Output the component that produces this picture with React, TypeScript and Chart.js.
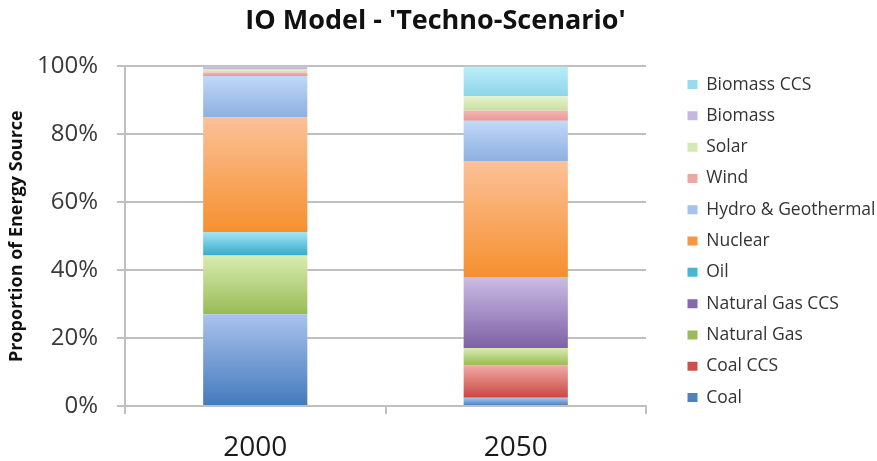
import { useEffect, useRef } from 'react';
import { Chart, registerables } from 'chart.js';

Chart.register(...registerables);

// Scenario years on the x axis
const years = ['2000', '2050'];

// Share of each energy source (%), one value per year
const coal = [27, 2.4];
const coalCcs = [0, 9.6];
const naturalGas = [17.3, 5.1];
const naturalGasCcs = [0, 20.9];
const oil = [6.9, 0];
const nuclear = [33.8, 34];
const hydroGeothermal = [12.2, 12];
const wind = [1, 3];
const solar = [0.9, 4.2];
const biomass = [0.9, 0];
const biomassCcs = [0, 8.8];

const yTicks = [0, 20, 40, 60, 80, 100];

type Series = {
  label: string;
  values: number[];
  light: string;
  dark: string;
  swatch: string;
};

// Stacking order, bottom to top
const series: Series[] = [
  { label: 'Coal', values: coal, light: '#a9c3ec', dark: '#4479bd', swatch: '#4f81bd' },
  { label: 'Coal CCS', values: coalCcs, light: '#f1aaa8', dark: '#c9473f', swatch: '#cf504b' },
  { label: 'Natural Gas', values: naturalGas, light: '#d9ecb0', dark: '#98bb55', swatch: '#9bbb59' },
  { label: 'Natural Gas CCS', values: naturalGasCcs, light: '#cbbde4', dark: '#7d61a5', swatch: '#8468ad' },
  { label: 'Oil', values: oil, light: '#a4e4f4', dark: '#35abcb', swatch: '#45b6d3' },
  { label: 'Nuclear', values: nuclear, light: '#fbc198', dark: '#f5902f', swatch: '#f79646' },
  { label: 'Hydro & Geothermal', values: hydroGeothermal, light: '#c1d8f8', dark: '#8eafe0', swatch: '#a6c2ee' },
  { label: 'Wind', values: wind, light: '#f3b4b2', dark: '#e89896', swatch: '#f0a5a3' },
  { label: 'Solar', values: solar, light: '#e4f3cc', dark: '#c8e0a2', swatch: '#d4e9b3' },
  { label: 'Biomass', values: biomass, light: '#d5cbea', dark: '#bcaadb', swatch: '#c6b6e0' },
  { label: 'Biomass CCS', values: biomassCcs, light: '#baeef9', dark: '#8ed4e8', swatch: '#98dbee' },
];

const FONT = "'Open Sans', 'DejaVu Sans', sans-serif";
const GRID = '#c0c0c0';

// Vertical light-to-dark fill for one stacked segment
function segmentFill(ctx: any, s: Series, index: number) {
  if (ctx.type !== 'data') return s.swatch;
  const chart = ctx.chart;
  const y = chart.scales && chart.scales.y;
  if (!y || !chart.chartArea) return s.swatch;
  const j = ctx.dataIndex;
  let base = 0;
  for (let k = 0; k < index; k++) base += series[k].values[j];
  const top = y.getPixelForValue(base + s.values[j]);
  const bottom = y.getPixelForValue(base);
  if (!(bottom - top > 0.5)) return s.swatch;
  const g = chart.ctx.createLinearGradient(0, top, 0, bottom);
  g.addColorStop(0, s.light);
  g.addColorStop(1, s.dark);
  return g;
}

// Gives the legend a fixed width and places it a set gap right of the plot area
const legendPlacement = {
  id: 'legendPlacement',
  beforeLayout(chart: any, _args: any, opts: any) {
    const legend = chart.legend;
    if (!legend || legend.__fixedWidth) return;
    const fit = legend.fit;
    legend.fit = function () {
      fit.call(this);
      this.width = opts.width;
    };
    legend.__fixedWidth = true;
  },
  afterLayout(chart: any, _args: any, opts: any) {
    const legend = chart.legend;
    if (!legend || !chart.chartArea) return;
    const pad = legend.options.labels.padding;
    const dx = chart.chartArea.right + opts.gap - (legend.left + pad);
    legend.left += dx;
    legend.right += dx;
    legend.top += opts.dy;
    legend.bottom += opts.dy;
  },
};

export default function App() {
  const canvasRef = useRef<HTMLCanvasElement | null>(null);

  useEffect(() => {
    const canvas = canvasRef.current;
    if (!canvas) return;
    const chart = new Chart(canvas, {
      type: 'bar',
      data: {
        labels: years,
        datasets: series.map((s, i) => ({
          label: s.label,
          data: s.values,
          backgroundColor: (ctx: any) => segmentFill(ctx, s, i),
          borderWidth: 0,
          barPercentage: 0.4,
          categoryPercentage: 1,
        })),
      },
      options: {
        responsive: false,
        animation: false,
        devicePixelRatio: 1,
        layout: { padding: { right: 6 } },
        scales: {
          x: {
            stacked: true,
            afterFit: (scale: any) => {
              scale.height = 55;
            },
            grid: {
              offset: true,
              drawOnChartArea: false,
              drawTicks: true,
              tickLength: 8,
              color: GRID,
              lineWidth: 2,
            },
            border: { color: GRID, width: 2 },
            ticks: {
              padding: 17,
              color: '#1a1a1a',
              font: { family: FONT, size: 28 },
            },
          },
          y: {
            stacked: true,
            min: 0,
            max: 100,
            afterBuildTicks: (scale: any) => {
              scale.ticks = yTicks.map((v) => ({ value: v }));
            },
            afterFit: (scale: any) => {
              scale.width = 125;
            },
            grid: { color: GRID, lineWidth: 2, tickLength: 8 },
            border: { color: GRID, width: 2 },
            ticks: {
              padding: 19,
              color: '#3a3a3a',
              font: { family: FONT, size: 24 },
              callback: (v: any) => v + '%',
            },
            title: {
              display: true,
              text: 'Proportion of Energy Source',
              color: '#111',
              padding: { top: 6, bottom: 0 },
              font: { family: FONT, size: 18, weight: 'bold' },
            },
          },
        },
        plugins: {
          title: {
            display: true,
            text: "IO Model - 'Techno-Scenario'",
            color: '#111',
            padding: { top: 5, bottom: 29 },
            font: { family: FONT, size: 27, weight: 'bold' },
          },
          legend: {
            position: 'right',
            align: 'start',
            reverse: true,
            labels: {
              boxWidth: 10,
              boxHeight: 9,
              padding: 13.8,
              color: '#333',
              font: { family: FONT, size: 17.5 },
              generateLabels: (chart: any) =>
                Chart.defaults.plugins.legend.labels.generateLabels(chart).map((item: any) => {
                  const s = series[item.datasetIndex];
                  return { ...item, fillStyle: s.swatch, strokeStyle: s.swatch, lineWidth: 0 };
                }),
            },
          },
          tooltip: { enabled: false },
          legendPlacement: { width: 225, gap: 41.5, dy: 62 },
        } as any,
      },
      plugins: [legendPlacement],
    });
    return () => chart.destroy();
  }, []);

  return (
    <div style={{ position: 'fixed', left: 0, top: 0, width: 877, height: 461, background: '#fff' }}>
      <canvas ref={canvasRef} width={877} height={461} />
    </div>
  );
}
